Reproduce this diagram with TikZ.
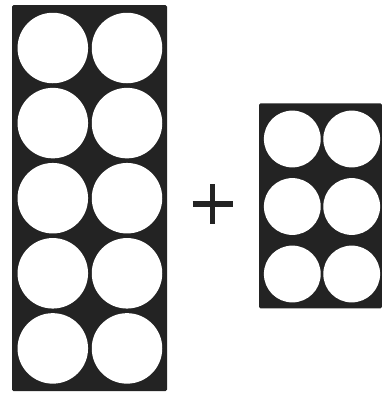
\documentclass[tikz,border=0pt]{standalone}
\definecolor{board}{HTML}{232323}
\tikzset{
  boardbox/.style={rectangle, fill=board, rounded corners=1.5pt, inner sep=0pt},
  bighole/.style={circle, fill=white, inner sep=0pt, minimum size=70.5pt},
  smallhole/.style={circle, fill=white, inner sep=0pt, minimum size=56.8pt},
  plusbar/.style={draw=board, line width=5.5pt}
}
\begin{document}
\begin{tikzpicture}[x=1pt,y=-1pt]
\useasboundingbox (0,0) rectangle (382,394);
% ten frame
\node[boardbox, minimum width=155pt, minimum height=386pt] (ten) at (89.5,198) {};
\foreach \r in {0,...,4}{
  \node[bighole] (t\r a) at (52.8,{48+75.1*\r}) {};
  \node[bighole] (t\r b) at (127,{48+75.1*\r}) {};
}
% plus
\coordinate (pc) at (212.6,204);
\draw[plusbar] ([xshift=-20pt]pc) -- ([xshift=20pt]pc);
\draw[plusbar] ([yshift=-19.6pt]pc) -- ([yshift=19.6pt]pc);
% six frame
\node[boardbox, minimum width=123pt, minimum height=205pt] (six) at (320.5,205.8) {};
\foreach \r in {0,...,2}{
  \node[smallhole] (s\r a) at (292.3,{139+67.5*\r}) {};
  \node[smallhole] (s\r b) at (351.7,{139+67.5*\r}) {};
}
\end{tikzpicture}
\end{document}
